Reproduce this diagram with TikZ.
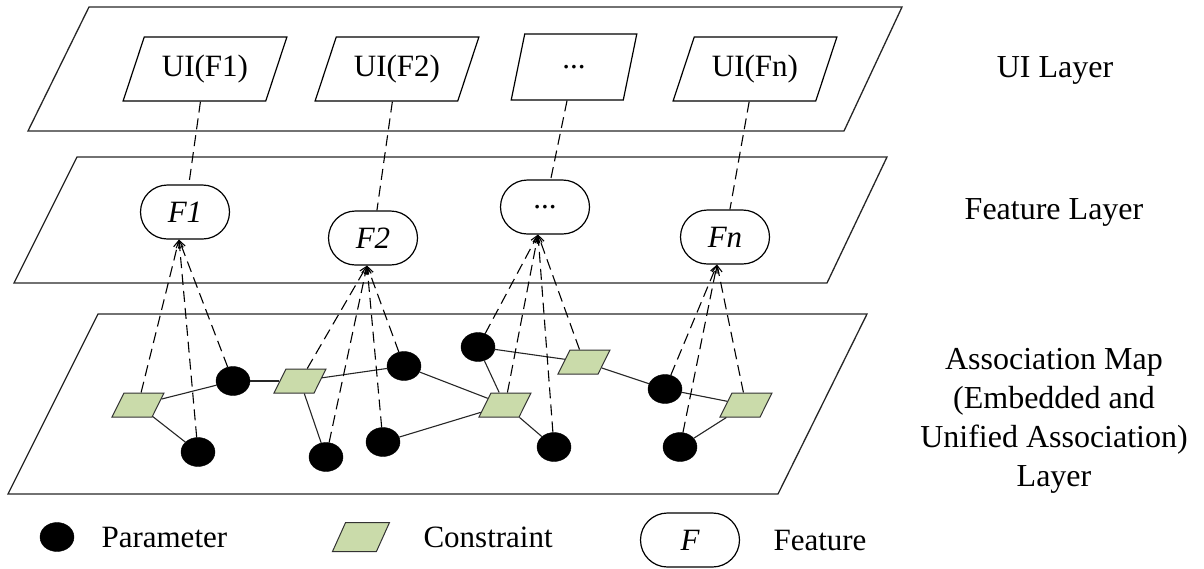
\documentclass[tikz,border=0pt]{standalone}
\usepackage{fontspec}
\setmainfont{Liberation Serif}
\usetikzlibrary{shapes.geometric,shapes.misc,arrows.meta}
\definecolor{cgreen}{RGB}{202,219,170}
\begin{document}
\begin{tikzpicture}[x=1pt,y=-1pt,
  every node/.style={font=\fontsize{31}{39}\selectfont},
  layer/.style={draw=black!85,line width=1.3pt},
  uibox/.style={trapezium,trapezium left angle=64,trapezium right angle=116,trapezium stretches=true,draw=black,line width=1.2pt,inner sep=2pt,minimum height=64pt,minimum width=164pt},
  feat/.style={rounded rectangle,draw=black,line width=1.2pt,inner sep=2pt,minimum width=93pt,minimum height=54pt,font=\fontsize{31}{39}\selectfont\itshape},
  param/.style={ellipse,fill=black,draw=black,minimum width=34pt,minimum height=29pt,inner sep=2pt},
  cons/.style={trapezium,trapezium left angle=67,trapezium right angle=113,trapezium stretches=true,draw=black!80,fill=cgreen,line width=1pt,minimum width=52pt,minimum height=24pt,inner sep=2pt},
  dline/.style={line width=1.1pt,dash pattern=on 11pt off 6pt,-{Straight Barb[length=7pt,width=7pt]}},
  uline/.style={line width=1.1pt,dash pattern=on 11pt off 6pt},
  sline/.style={line width=1.1pt,draw=black!85},
  lbl/.style={align=center,font=\fontsize{32}{39}\selectfont}
]
\useasboundingbox (0,0) rectangle (1204,568);

% layers
\draw[layer] (89,7) -- (902,7) -- (844,131) -- (28,131) -- cycle;
\draw[layer] (77,157) -- (887,157) -- (827,283) -- (14,283) -- cycle;
\draw[layer] (98,314) -- (867,314) -- (778,494) -- (8,494) -- cycle;

% layer labels
\node[lbl] (lui) at (1055,70) {UI Layer};
\node[lbl] (lfeat) at (1054,212) {Feature Layer};
\node[lbl] (lassoc) at (1054,421) {Association Map\\(Embedded and\\Unified Association)\\Layer};

% UI boxes
\node[uibox] (U1) at (205,69) {UI(F1)};
\node[uibox] (U2) at (397,69) {UI(F2)};
\node[uibox,minimum width=126pt,minimum height=66pt] (U3) at (574,67) {...};
\node[uibox] (U4) at (755,69) {UI(Fn)};

% features
\node[feat] (F1) at (185,212) {F1};
\node[feat] (F2) at (373,238) {F2};
\node[feat,font=\fontsize{31}{39}\selectfont] (F3) at (545,207) {...};
\node[feat] (F4) at (725,237) {Fn};

% association map nodes
\node[cons] (C1) at (138,405) {};
\node[param] (P1) at (233,381) {};
\node[param] (P2) at (198,452) {};
\node[cons] (C2) at (300,381) {};
\node[param] (P3) at (404,366) {};
\node[param] (P4) at (326,457) {};
\node[param] (P5) at (383,442) {};
\node[param] (P6) at (478,347) {};
\node[cons] (C3) at (505,405) {};
\node[cons] (C4) at (584,362) {};
\node[param] (P7) at (554,447) {};
\node[param] (P8) at (665,389) {};
\node[param] (P9) at (680,447) {};
\node[cons] (C5) at (746,405) {};

% UI to feature
\draw[uline] (U1) -- (F1);
\draw[uline] (U2) -- (F2);
\draw[uline] (U3) -- (F3);
\draw[uline] (U4) -- (F4);

% solid associations
\draw[sline] (C1) -- (P1);
\draw[sline] (C1) -- (P2);
\draw[sline] (P1) -- (C2);
\draw[sline] (C2) -- (P3);
\draw[sline] (C2) -- (P4);
\draw[sline] (P3) -- (C3);
\draw[sline] (P5) -- (C3);
\draw[sline] (P6) -- (C3);
\draw[sline] (C3) -- (P7);
\draw[sline] (P6) -- (C4);
\draw[sline] (C4) -- (P8);
\draw[sline] (P8) -- (C5);
\draw[sline] (C5) -- (P9);

% feature bottoms
\coordinate (f1b) at ([xshift=-6pt]F1.south);
\coordinate (f2b) at ([xshift=-6pt]F2.south);
\coordinate (f3b) at ([xshift=-7pt]F3.south);
\coordinate (f4b) at ([xshift=-8pt]F4.south);

\foreach \n in {C1,P2,P1} \draw[dline] (\n) -- (f1b);
\foreach \n in {C2,P4,P5,P3} \draw[dline] (\n) -- (f2b);
\foreach \n in {P6,C3,P7,C4} \draw[dline] (\n) -- (f3b);
\foreach \n in {P8,P9,C5} \draw[dline] (\n) -- (f4b);

% legend
\node[param] (LP) at (57,537) {};
\node[anchor=west] (LPt) at (98,537) {Parameter};
\node[cons,minimum width=57pt,minimum height=29pt] (LC) at (361,537) {};
\node[anchor=west] (LCt) at (420,537) {Constraint};
\node[feat,minimum width=103pt] (LF) at (690,540) {F};
\node[anchor=west] (LFt) at (770,540) {Feature};
\end{tikzpicture}
\end{document}
